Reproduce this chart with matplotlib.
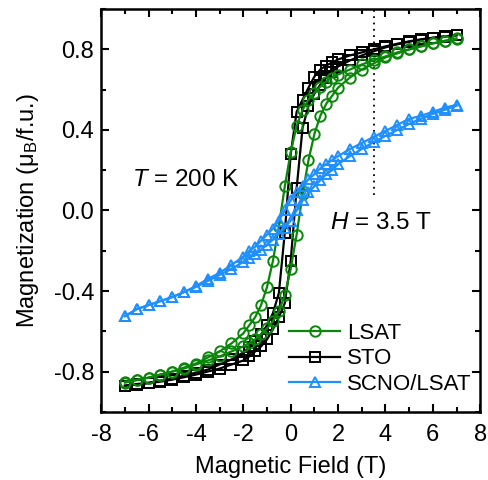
import matplotlib
matplotlib.use("Agg")
import matplotlib.pyplot as plt
from matplotlib.ticker import MultipleLocator

plt.rcParams['font.family'] = ['Liberation Sans', 'DejaVu Sans']
plt.rcParams['mathtext.fontset'] = 'custom'
plt.rcParams['mathtext.rm'] = 'Liberation Sans'
plt.rcParams['mathtext.it'] = 'Liberation Sans:italic'

# field sweep: +7 T down to -7 T, and back up
field_down = [7, 6.5, 6, 5.5, 5, 4.5, 4, 3.5, 3, 2.5, 2, 1.75, 1.5, 1.25, 1, 0.75,
              0.5, 0.25, 0, -0.25, -0.5, -0.75, -1, -1.25, -1.5, -1.75, -2, -2.5,
              -3, -3.5, -4, -4.5, -5, -5.5, -6, -6.5, -7]
field_up = field_down[::-1]

# LSAT substrate
lsat_down = [0.855, 0.843, 0.83, 0.815, 0.80, 0.785, 0.765, 0.745, 0.725, 0.70, 0.675,
             0.66, 0.64, 0.615, 0.585, 0.55, 0.50, 0.42, 0.29, 0.12, -0.08, -0.25,
             -0.38, -0.47, -0.53, -0.57, -0.61, -0.66, -0.70, -0.73, -0.76, -0.78,
             -0.80, -0.815, -0.83, -0.84, -0.85]
lsat_up = [-0.855, -0.843, -0.83, -0.815, -0.80, -0.785, -0.765, -0.745, -0.725, -0.70,
           -0.675, -0.66, -0.64, -0.615, -0.585, -0.55, -0.50, -0.42, -0.29, -0.12,
           0.08, 0.25, 0.38, 0.47, 0.53, 0.57, 0.61, 0.66, 0.70, 0.73, 0.76, 0.78,
           0.80, 0.815, 0.83, 0.84, 0.85]

# STO substrate
sto_down = [0.87, 0.865, 0.858, 0.85, 0.84, 0.828, 0.815, 0.80, 0.785, 0.77, 0.75,
            0.735, 0.72, 0.70, 0.665, 0.61, 0.55, 0.49, 0.28, -0.11, -0.41, -0.51,
            -0.57, -0.615, -0.65, -0.68, -0.705, -0.74, -0.765, -0.79, -0.805, -0.82,
            -0.835, -0.845, -0.855, -0.862, -0.87]
sto_up = [-0.87, -0.865, -0.858, -0.85, -0.84, -0.828, -0.815, -0.80, -0.785, -0.765,
          -0.745, -0.725, -0.70, -0.675, -0.64, -0.59, -0.53, -0.46, -0.25, 0.11, 0.41,
          0.52, 0.58, 0.625, 0.66, 0.69, 0.715, 0.745, 0.77, 0.79, 0.81, 0.825, 0.838,
          0.848, 0.857, 0.864, 0.87]

# SCNO/LSAT
scno_down = [0.525, 0.51, 0.49, 0.47, 0.455, 0.425, 0.395, 0.365, 0.335, 0.305, 0.27,
             0.25, 0.23, 0.21, 0.18, 0.155, 0.12, 0.09, 0.05, 0.0, -0.05, -0.09, -0.12,
             -0.15, -0.18, -0.20, -0.23, -0.27, -0.31, -0.34, -0.375, -0.405, -0.43,
             -0.45, -0.47, -0.49, -0.525]
scno_up = [-0.525, -0.49, -0.47, -0.45, -0.43, -0.405, -0.38, -0.35, -0.32, -0.29,
           -0.255, -0.235, -0.215, -0.195, -0.17, -0.145, -0.115, -0.085, -0.05, 0.0,
           0.05, 0.09, 0.12, 0.15, 0.18, 0.20, 0.23, 0.27, 0.305, 0.34, 0.37, 0.40,
           0.43, 0.455, 0.48, 0.50, 0.52]

green = '#0a870a'
blue = '#1e8fff'
H_MARK = 3.5

fig = plt.figure(figsize=(4.89, 4.8), dpi=100)
ax = fig.add_axes([0.207, 0.142, 0.775, 0.839])

style = dict(lw=1.6, mfc='none', mew=1.4, ms=7.5)
for f, m in ((field_down, sto_down), (field_up, sto_up)):
    ax.plot(f, m, '-s', color='black', zorder=2, **style)
for f, m in ((field_down, lsat_down), (field_up, lsat_up)):
    ax.plot(f, m, '-o', color=green, zorder=3, **style)
for f, m in ((field_down, scno_down), (field_up, scno_up)):
    ax.plot(f, m, '-^', color=blue, zorder=4, **style)

ax.vlines(H_MARK, 0.075, 1.0, colors='black', linestyles=(0, (1, 2.5)), lw=1.3)

ax.text(-6.7, 0.12, '$\\it{T}$ = 200 K', fontsize=17.5)
ax.text(1.65, -0.09, '$\\it{H}$ = 3.5 T', fontsize=17.5)

ax.set_xlim(-8, 8)
ax.set_ylim(-1, 1)
ax.xaxis.set_minor_locator(MultipleLocator(1))
ax.yaxis.set_minor_locator(MultipleLocator(0.2))
ax.set_yticks([-0.8, -0.4, 0.0, 0.4, 0.8])
ax.set_yticklabels(['-0.8', '-0.4', '0.0', '0.4', '0.8'])
ax.set_xticks([-8, -6, -4, -2, 0, 2, 4, 6, 8])
ax.set_xticklabels(['-8', '-6', '-4', '-2', '0', '2', '4', '6', '8'])
ax.tick_params(which='both', direction='in', top=True, right=True, width=1.5,
               labelsize=17)
ax.tick_params(which='major', length=6)
ax.tick_params(axis='x', which='major', pad=9)
ax.tick_params(axis='y', which='major', pad=5)
ax.tick_params(which='minor', length=3.5)
for s in ax.spines.values():
    s.set_linewidth(1.8)

ax.set_xlabel('Magnetic Field (T)', fontsize=17, labelpad=7)
ax.set_ylabel('Magnetization (μ$_\\mathrm{B}$/f.u.)', fontsize=17, labelpad=9)

h1 = plt.Line2D([], [], color=green, marker='o', **style)
h2 = plt.Line2D([], [], color='black', marker='s', **style)
h3 = plt.Line2D([], [], color=blue, marker='^', **style)
ax.legend([h1, h2, h3], ['LSAT', 'STO', 'SCNO/LSAT'], loc='lower right',
          bbox_to_anchor=(1.0, 0.02), frameon=False, fontsize=16,
          handlelength=2.3, handletextpad=0.3, labelspacing=0.2, borderaxespad=0)

fig.savefig('out.png', dpi=100)
